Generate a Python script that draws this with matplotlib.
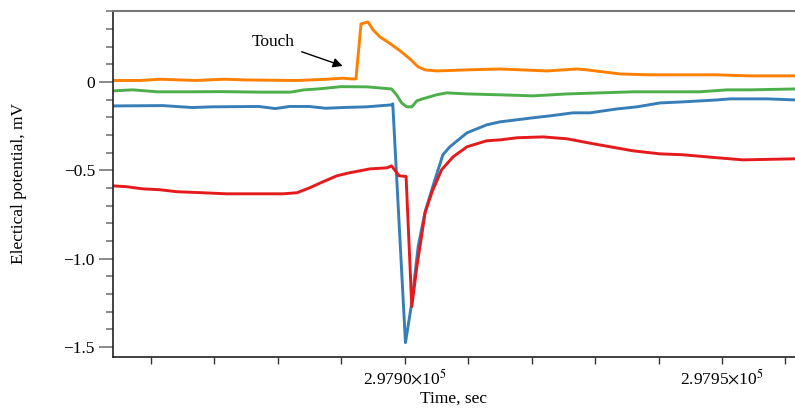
import matplotlib
matplotlib.use("Agg")
import matplotlib.pyplot as plt
from matplotlib.ticker import FixedLocator, MultipleLocator, FuncFormatter

plt.rcParams['font.family'] = ['Liberation Serif', 'DejaVu Serif']
plt.rcParams['mathtext.fontset'] = 'stix'

# orange channel
t_orange = [297854.0, 297858.2, 297861.4, 297867.0, 297871.5, 297875.0, 297883.0,
            297887.7, 297890.2, 297891.5, 297892.3, 297893.1, 297894.2, 297895.0,
            297896.1, 297897.3, 297898.4, 297899.5, 297900.8, 297902.1, 297903.2,
            297905.0, 297909.8, 297915.0, 297922.4, 297927.1, 297928.7, 297933.9,
            297938.6, 297943.8, 297949.2, 297954.4, 297961.5]
v_orange = [0.008, 0.008, 0.015, 0.008, 0.015, 0.011, 0.008,
            0.015, 0.021, 0.017, 0.017, 0.328, 0.339, 0.294,
            0.254, 0.226, 0.198, 0.169, 0.130, 0.085, 0.068,
            0.062, 0.068, 0.073, 0.062, 0.073, 0.068, 0.045,
            0.040, 0.040, 0.040, 0.034, 0.034]

# green channel
t_green = [297854.0, 297857.1, 297861.0, 297866.5, 297870.9, 297877.3, 297882.0,
           297884.1, 297886.3, 297889.9, 297894.0, 297897.9, 297898.7, 297899.5,
           297900.3, 297901.1, 297901.9, 297902.8, 297905.0, 297906.6, 297909.8,
           297915.0, 297920.2, 297925.6, 297930.8, 297936.0, 297946.5, 297950.8,
           297954.4, 297961.5]
v_green = [-0.051, -0.045, -0.056, -0.056, -0.055, -0.058, -0.058,
           -0.045, -0.040, -0.027, -0.028, -0.040, -0.073, -0.119,
           -0.141, -0.141, -0.107, -0.096, -0.073, -0.062, -0.068,
           -0.073, -0.079, -0.068, -0.062, -0.056, -0.056, -0.045,
           -0.045, -0.040]

# blue channel
t_blue = [297854.0, 297861.8, 297866.5, 297869.7, 297877.0, 297879.6, 297881.8,
          297884.9, 297887.5, 297890.2, 297894.0, 297897.9, 297898.1, 297900.1,
          297901.1, 297902.1, 297903.2, 297904.4, 297906.0, 297907.1, 297909.8,
          297912.9, 297915.0, 297920.2, 297922.9, 297926.5, 297929.2, 297933.4,
          297936.6, 297940.2, 297943.8, 297949.2, 297951.3, 297957.1, 297961.5]
v_blue = [-0.136, -0.134, -0.145, -0.141, -0.139, -0.151, -0.139,
          -0.139, -0.149, -0.145, -0.141, -0.130, -0.124, -1.475,
          -1.249, -0.932, -0.734, -0.593, -0.412, -0.367, -0.288,
          -0.243, -0.226, -0.203, -0.192, -0.175, -0.175, -0.153,
          -0.141, -0.119, -0.113, -0.102, -0.096, -0.096, -0.102]

# red channel
t_red = [297854.0, 297856.2, 297858.7, 297861.4, 297864.0, 297868.1, 297871.9,
         297877.1, 297880.8, 297883.0, 297885.0, 297887.1, 297889.3, 297891.3,
         297894.5, 297897.2, 297897.9, 297899.1, 297900.2, 297901.1, 297901.9,
         297903.2, 297904.3, 297905.8, 297907.6, 297909.8, 297912.9, 297915.0,
         297917.7, 297921.8, 297925.6, 297929.7, 297936.0, 297940.2, 297943.8,
         297949.2, 297953.3, 297961.5]
v_red = [-0.588, -0.593, -0.605, -0.610, -0.621, -0.627, -0.633,
         -0.633, -0.633, -0.627, -0.599, -0.565, -0.531, -0.514,
         -0.492, -0.486, -0.475, -0.531, -0.535, -1.271, -1.045,
         -0.740, -0.621, -0.497, -0.424, -0.367, -0.333, -0.328,
         -0.316, -0.311, -0.322, -0.350, -0.390, -0.407, -0.412,
         -0.429, -0.441, -0.435]

x_major = [297900, 297950]
x_major_labels = [r"2.9790$\times$10$^{5}$", r"2.9795$\times$10$^{5}$"]
y_major = [0.0, -0.5, -1.0, -1.5]

fig = plt.figure(figsize=(7.95, 4.12), dpi=100)
ax = fig.add_axes([0.1421, 0.1335, 0.8579, 0.8398])

ax.plot(t_blue, v_blue, color='#377eb8', lw=2.1)
ax.plot(t_orange, v_orange, color='#ff7f00', lw=2.1)
ax.plot(t_green, v_green, color='#4daf4a', lw=2.1)
ax.plot(t_red, v_red, color='#e41a1c', lw=2.1)

ax.annotate('Touch', xy=(297890.2, 0.09), xytext=(297879.3, 0.226),
            ha='center', va='center', fontsize=12.5,
            arrowprops=dict(arrowstyle='-|>', color='black', lw=1,
                            mutation_scale=14, shrinkA=3, shrinkB=0))

ax.set_xlim(297854.0, 297961.5)
ax.set_ylim(-1.556, 0.401)

ax.xaxis.set_major_locator(FixedLocator(x_major))
ax.xaxis.set_major_formatter(FuncFormatter(
    lambda v, p: x_major_labels[x_major.index(round(v))] if round(v) in x_major else ""))
ax.xaxis.set_minor_locator(MultipleLocator(10))
ax.yaxis.set_major_locator(FixedLocator(y_major))
ax.yaxis.set_major_formatter(FuncFormatter(
    lambda v, p: "0" if abs(v) < 1e-9 else "\u2212%.1f" % abs(v)))
ax.yaxis.set_minor_locator(MultipleLocator(0.1))

ax.tick_params(axis='x', which='both', direction='out', length=5, width=1,
               color='#333333', labelsize=12.5, pad=3)
ax.tick_params(axis='y', which='major', direction='out', length=10, width=1.2,
               color='#777777', labelsize=12.5, pad=3)
ax.tick_params(axis='y', which='minor', direction='out', length=5, width=1.2,
               color='#777777')

ax.spines['right'].set_visible(False)
ax.spines['top'].set_color('#777777')
ax.spines['top'].set_linewidth(1.5)
ax.spines['left'].set_color('#222222')
ax.spines['left'].set_linewidth(1.2)
ax.spines['bottom'].set_color('#222222')
ax.spines['bottom'].set_linewidth(1.2)

ax.set_xlabel('Time, sec', fontsize=12.5, labelpad=2)
ax.set_ylabel('Electical potential, mV', fontsize=12.5, labelpad=26)

fig.savefig('out.png', dpi=100)
